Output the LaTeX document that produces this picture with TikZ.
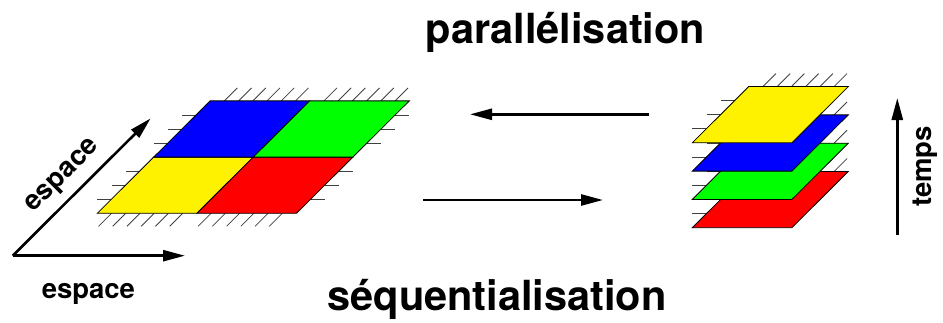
\documentclass[tikz,border=0pt]{standalone}
\usepackage{fontspec}
\setsansfont{TeX Gyre Heros}
\usetikzlibrary{arrows.meta,positioning}

\newcommand{\dlarg}{99.6}
\newcommand{\dhaut}{56.2}
\newcommand{\ddecal}{56.4}
% une dalle : coin bas gauche, couleur
\newcommand{\dalle}[3]{\filldraw[fill=#3, draw=black, line width=0.8pt] (#1,#2) -- ++(\dlarg,0) -- ++(\ddecal,\dhaut) -- ++(-\dlarg,0) -- cycle;}
% hachures : coin haut gauche / bas gauche
\newcommand{\marqueshaut}[2]{\foreach \k in {1,...,6} \draw[hachure] (#1+\k*\dlarg/7,#2) -- ++(13,13);}
\newcommand{\marquesbas}[2]{\foreach \k in {1,...,6} \draw[hachure] (#1+\k*\dlarg/7,#2) -- ++(-13,-13);}
\newcommand{\marquesgauche}[2]{\foreach \k in {1,2,3} \draw[hachure] (#1+\k*\ddecal/4,#2+\k*\dhaut/4) -- ++(-14,0);}
\newcommand{\marquesdroite}[2]{\foreach \k in {1,2,3} \draw[hachure] (#1+\dlarg+\k*\ddecal/4,#2+\k*\dhaut/4) -- ++(14,0);}

\begin{document}
\begin{tikzpicture}[x=1pt, y=1pt,
    hachure/.style={line width=0.8pt, black!75},
    fleche/.style={-{Triangle[length=22pt,width=11pt]}, line width=2.6pt},
    titre/.style={font=\sffamily\bfseries\fontsize{41.5}{42}\selectfont, inner sep=0pt},
    etiq/.style={font=\sffamily\bfseries\fontsize{27.5}{28}\selectfont, inner sep=0pt}
]
\useasboundingbox (0,0) rectangle (943,322);

% domaine espace x espace
\marquesbas{97.3}{108.7}
\marquesbas{196.9}{108.7}
\marqueshaut{210.1}{221.1}
\marqueshaut{309.7}{221.1}
\marquesgauche{97.3}{108.7}
\marquesgauche{153.7}{164.9}
\marquesdroite{196.9}{108.7}
\marquesdroite{253.3}{164.9}
\dalle{97.3}{108.7}{yellow}
\dalle{196.9}{108.7}{red}
\dalle{153.7}{164.9}{blue}
\dalle{253.3}{164.9}{green}

% pile en temps
\foreach \coul [count=\i from 0] in {red,green,blue,yellow} {
  \marquesgauche{692.3}{94.3+\i*28.3}
  \marqueshaut{748.7}{150.5+\i*28.3}
  \dalle{692.3}{94.3+\i*28.3}{\coul}
}

% axes
\coordinate (o) at (12.7,66.3);
\coordinate (ex) at (185,66.3);
\coordinate (ey) at (150.7,203.7);
\draw[fleche] (o) -- (ex);
\draw[fleche] (o) -- (ey);
\node[etiq, anchor=base] (espx) at (88.4,23.7) {espace};
\node[etiq, anchor=base, rotate=45] (espy) at (66.7,142) {espace};

\coordinate (t0) at (897.3,87);
\coordinate (t1) at (897.3,224);
\draw[fleche] (t0) -- (t1);
\node[etiq, anchor=base, rotate=90] (temps) at (931.7,155.5) {temps};

% passages
\coordinate (p0) at (649,207.7);
\coordinate (p1) at (470,207.7);
\coordinate (s0) at (423,122);
\coordinate (s1) at (603,122);
\draw[fleche] (p0) -- (p1);
\draw[fleche] (s0) -- (s1);
\node[titre, anchor=base] (para) at (565.5,278.7) {parallélisation};
\node[titre, anchor=base] (seq) at (497,12) {séquentialisation};
\end{tikzpicture}
\end{document}
